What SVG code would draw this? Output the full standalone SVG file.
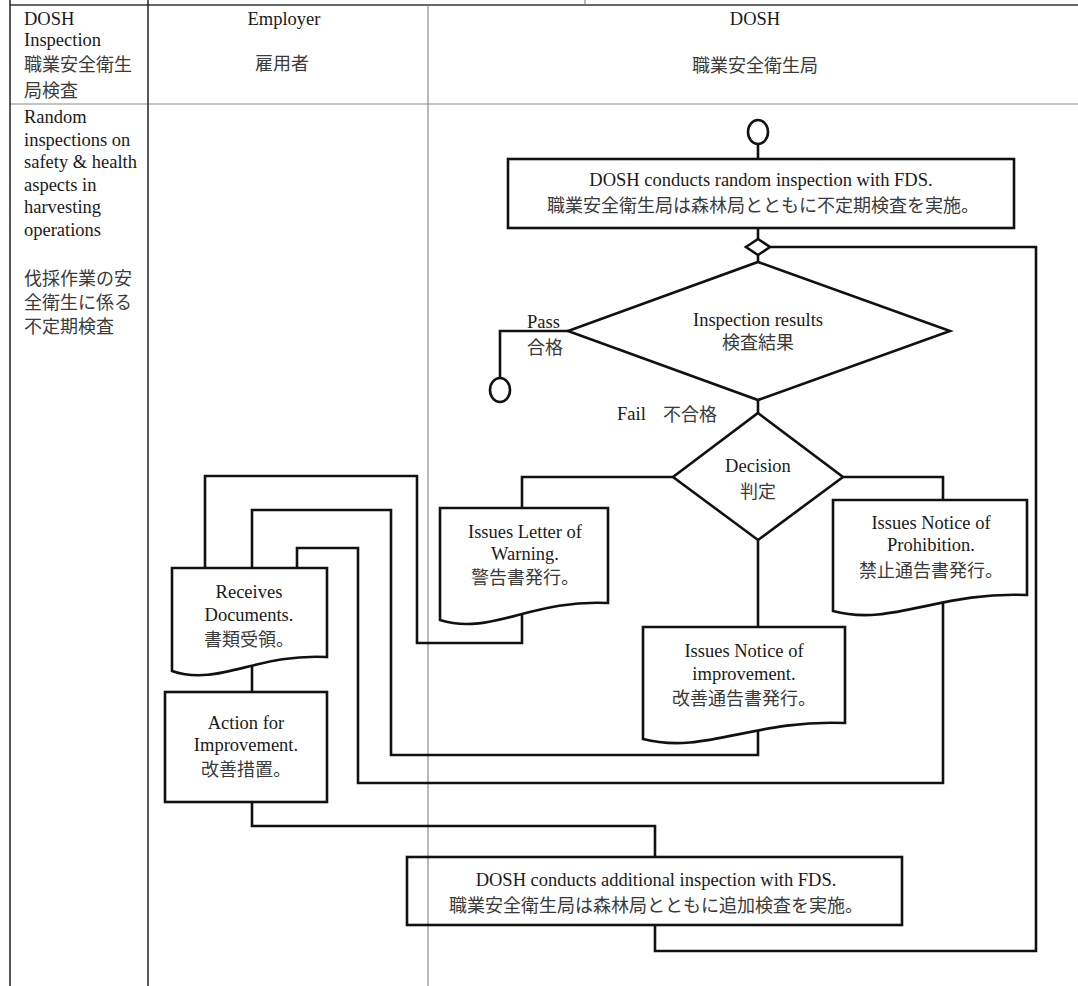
<svg xmlns="http://www.w3.org/2000/svg" width="1078" height="986" viewBox="0 0 1078 986">
<style>
.bg{fill:#ffffff}
.grid{stroke:#222;stroke-width:1.5;fill:none}
.gridg{stroke:#8a8a8a;stroke-width:1.2;fill:none}
.gridh{stroke:#666;stroke-width:1.8;fill:none}
.conn{stroke:#111;stroke-width:2.6;fill:none;stroke-linejoin:miter}
.node{stroke:#111;stroke-width:2.6;fill:#ffffff}
.nodet{stroke:#111;stroke-width:2.6;fill:none}
.en{font-family:"Liberation Serif","Times New Roman",serif;font-size:18.5px;fill:#1a1a1a}
.jp{font-family:"Noto Sans CJK JP","Noto Sans CJK SC",sans-serif;font-size:18px;fill:#3a3a3a}
.c{text-anchor:middle}
</style>
<rect class="bg" x="0" y="0" width="1078" height="986"/>
<g id="table">
<line class="gridg" x1="585" y1="0" x2="585" y2="5"/>
<line class="gridh" x1="10" y1="5" x2="1078" y2="5"/>
<line class="gridg" x1="10" y1="104" x2="1078" y2="104"/>
<line class="grid" x1="10" y1="0" x2="10" y2="986"/>
<line class="grid" x1="148" y1="0" x2="148" y2="986"/>
<line class="gridg" x1="428" y1="5" x2="428" y2="986"/>
</g>
<g id="header">
<text class="en" x="24" y="25">DOSH</text>
<text class="en" x="24" y="46">Inspection</text>
<text class="jp" x="24" y="71">職業安全衛生</text>
<text class="jp" x="24" y="97">局検査</text>
<text class="en c" x="284" y="25">Employer</text>
<text class="jp c" x="282" y="70">雇用者</text>
<text class="en c" x="755" y="25">DOSH</text>
<text class="jp c" x="755" y="72">職業安全衛生局</text>
</g>
<g id="row-label">
<text class="en" x="24" y="123">Random</text>
<text class="en" x="24" y="145.5">inspections on</text>
<text class="en" x="24" y="168">safety &amp; health</text>
<text class="en" x="24" y="190.5">aspects in</text>
<text class="en" x="24" y="213">harvesting</text>
<text class="en" x="24" y="235.5">operations</text>
<text class="jp" x="24" y="285">伐採作業の安</text>
<text class="jp" x="24" y="309">全衛生に係る</text>
<text class="jp" x="24" y="333">不定期検査</text>
</g>
<g id="connectors">
<path class="conn" d="M758,144 V159"/>
<path class="conn" d="M758,228 V239"/>
<path class="conn" d="M758,255 V262"/>
<path class="conn" d="M568,331 H500 V378"/>
<path class="conn" d="M758,400 V413"/>
<path class="conn" d="M673,477 H522 V508"/>
<path class="conn" d="M843,477 H943 V500"/>
<path class="conn" d="M758,540 V627"/>
<path class="conn" d="M522,612 V643 H417 V476 H205 V568"/>
<path class="conn" d="M758,728 V755 H391 V510 H252 V568"/>
<path class="conn" d="M943,600 V783 H358 V548 H297 V568"/>
<path class="conn" d="M252,664 V692"/>
<path class="conn" d="M252,802 V826 H655 V857"/>
<path class="conn" d="M655,925 V951 H1036 V247 H770"/>
</g>
<g id="start">
<ellipse class="node" cx="758" cy="132" rx="10" ry="12"/>
</g>
<g id="random-inspection">
<rect class="node" x="508" y="159" width="506" height="69"/>
<text class="en c" x="761" y="186">DOSH conducts random inspection with FDS.</text>
<text class="jp c" x="763" y="212">職業安全衛生局は森林局とともに不定期検査を実施。</text>
</g>
<g id="merge">
<polygon class="node" points="758,239 770,247 758,255 746,247"/>
</g>
<g id="inspection-results">
<polygon class="node" points="758,262 950,331 758,400 568,331"/>
<text class="en c" x="758" y="326">Inspection results</text>
<text class="jp c" x="758" y="349">検査結果</text>
</g>
<g id="pass-label">
<text class="en" x="527" y="328">Pass</text>
<text class="jp" x="527" y="354">合格</text>
</g>
<g id="end-pass">
<ellipse class="node" cx="500" cy="390" rx="10" ry="12"/>
</g>
<g id="fail-label">
<text class="en" x="617" y="420">Fail</text>
<text class="jp" x="663" y="421">不合格</text>
</g>
<g id="decision">
<polygon class="node" points="758,413 843,477 758,540 673,477"/>
<text class="en c" x="758" y="472">Decision</text>
<text class="jp c" x="758" y="498">判定</text>
</g>
<g id="letter-of-warning">
<path class="node" d="M440,508 H608 V603 C532,599 490,636 440,620 Z"/>
<text class="en c" x="525" y="538">Issues Letter of</text>
<text class="en c" x="525" y="560">Warning.</text>
<text class="jp c" x="525" y="584">警告書発行。</text>
</g>
<g id="notice-of-prohibition">
<path class="node" d="M833,500 H1027 V595 C940,591 891,627 833,611 Z"/>
<text class="en c" x="931" y="529">Issues Notice of</text>
<text class="en c" x="931" y="551">Prohibition.</text>
<text class="jp c" x="931" y="577">禁止通告書発行。</text>
</g>
<g id="notice-of-improvement">
<path class="node" d="M643,627 H845 V723 C754,719 704,755 643,739 Z"/>
<text class="en c" x="744" y="657">Issues Notice of</text>
<text class="en c" x="744" y="680">improvement.</text>
<text class="jp c" x="744" y="705">改善通告書発行。</text>
</g>
<g id="receives-documents">
<path class="node" d="M172,568 H327 V657 C257,653 218,687 172,671 Z"/>
<text class="en c" x="249" y="598">Receives</text>
<text class="en c" x="249" y="621">Documents.</text>
<text class="jp c" x="249" y="646">書類受領。</text>
</g>
<g id="action-for-improvement">
<rect class="node" x="165" y="692" width="162" height="110"/>
<text class="en c" x="246" y="729">Action for</text>
<text class="en c" x="246" y="751">Improvement.</text>
<text class="jp c" x="246" y="776">改善措置。</text>
</g>
<g id="additional-inspection">
<rect class="nodet" x="407" y="857" width="495" height="68"/>
<text class="en c" x="656" y="886">DOSH conducts additional inspection with FDS.</text>
<text class="jp c" x="656" y="912">職業安全衛生局は森林局とともに追加検査を実施。</text>
</g>
</svg>
